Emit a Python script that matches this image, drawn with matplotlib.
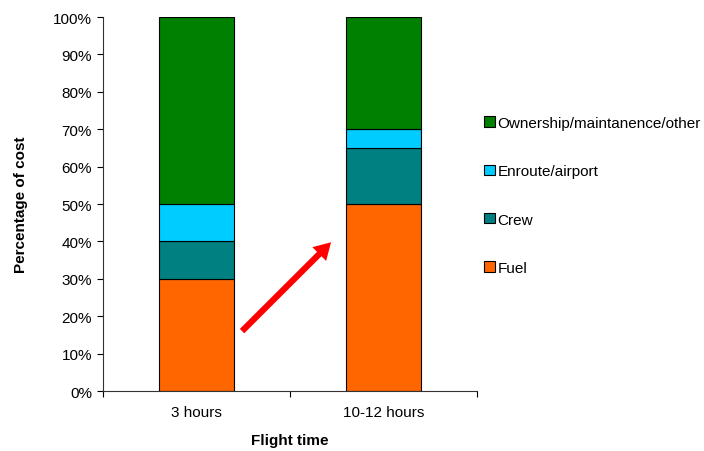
import matplotlib.pyplot as plt
import numpy as np
from matplotlib.ticker import PercentFormatter

plt.rcParams['font.family'] = ['Liberation Sans', 'DejaVu Sans']
plt.rcParams['font.size'] = 11

flight_times = ['3 hours', '10-12 hours']
fuel = [30, 50]
crew = [10, 15]
enroute = [10, 5]
ownership = [50, 30]

series = [
    ('Fuel', fuel, '#FF6600'),
    ('Crew', crew, '#008080'),
    ('Enroute/airport', enroute, '#00CCFF'),
    ('Ownership/maintanence/other', ownership, '#008000'),
]

fig = plt.figure(figsize=(7.04, 4.52), dpi=100)
ax = fig.add_axes([0.1463, 0.1327, 0.5313, 0.8274])

x = np.arange(len(flight_times))
bottom = np.zeros(len(flight_times))
handles = []
for name, vals, color in series:
    b = ax.bar(x, vals, width=0.4, bottom=bottom, color=color,
               edgecolor='black', linewidth=0.8, label=name)
    handles.append(b)
    bottom += vals

ax.set_xlim(-0.5, 1.5)
ax.set_ylim(0, 100)
ax.set_yticks(np.arange(0, 101, 10))
ax.yaxis.set_major_formatter(PercentFormatter(decimals=0))

# category ticks sit between bars, labels centred under them
ax.set_xticks([-0.5, 0.5, 1.5])
ax.set_xticklabels([])
ax.set_xticks(x, minor=True)
ax.set_xticklabels(flight_times, minor=True)
ax.tick_params(axis='x', which='minor', length=0, pad=10)
ax.tick_params(axis='both', which='major', length=4, width=0.8, direction='out')
ax.tick_params(axis='y', pad=4)

for side in ['top', 'right']:
    ax.spines[side].set_visible(False)
ax.spines['left'].set_color('#333333')
ax.spines['bottom'].set_color('#333333')

ax.set_ylabel('Percentage of cost', fontweight='bold', labelpad=18)
ax.set_xlabel('Flight time', fontweight='bold', labelpad=10)

# arrow showing the growing share of fuel
ax.annotate('', xy=(0.73, 40.3), xytext=(0.233, 15.5),
            arrowprops=dict(arrowstyle='simple,head_length=1.2,head_width=1.4,tail_width=0.45',
                            color='red', lw=0, mutation_scale=10))

fig.legend(handles[::-1], [s[0] for s in series][::-1],
           loc='upper left', bbox_to_anchor=(0.679, 0.755),
           frameon=False, handlelength=0.68, handleheight=0.68,
           handletextpad=0.2, labelspacing=2.25, borderaxespad=0)

fig.savefig('out.png', dpi=100)
